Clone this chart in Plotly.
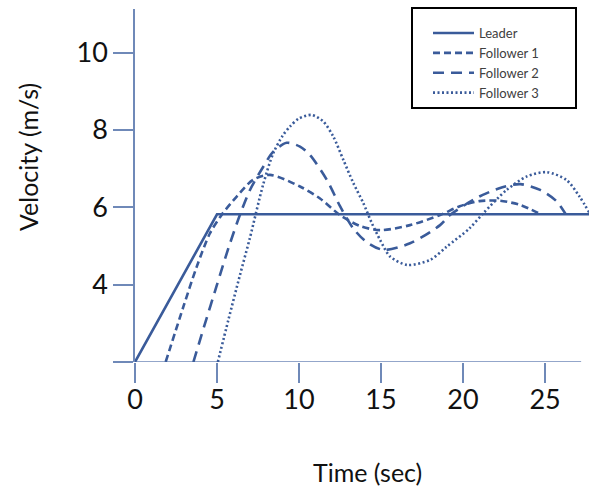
import plotly.graph_objects as go

# ---- data ----
leader_t = [0, 5, 27.7]
leader_v = [2.0, 5.82, 5.82]

f1_t = [1.87, 2.95, 3.76, 4.57, 5.29, 6.2, 7.2, 8.23, 10.06, 11.28, 12.5, 13.7, 14.94,
        16.77, 18.6, 19.8, 21.0, 22.26, 23.5, 24.7]
f1_v = [2.0, 3.43, 4.46, 5.33, 5.81, 6.28, 6.71, 6.84, 6.54, 6.23, 5.80, 5.52, 5.41,
        5.54, 5.80, 6.03, 6.16, 6.17, 6.06, 5.83]

f2_t = [3.56, 4.2, 5.0, 5.7, 6.4, 7.01, 7.82, 8.43, 9.25, 10.06, 10.67, 11.7, 12.5,
        13.3, 14.1, 15.14, 16.77, 18.6, 19.2, 21.0, 22.4, 23.5, 24.7, 25.7, 26.25]
f2_v = [2.0, 2.9, 4.0, 4.95, 5.81, 6.45, 7.05, 7.44, 7.67, 7.57, 7.35, 6.71, 6.03,
        5.46, 5.11, 4.90, 5.07, 5.54, 5.80, 6.28, 6.52, 6.6, 6.45, 6.16, 5.83]

f3_t = [5.05, 5.7, 6.4, 7.0, 7.82, 8.43, 9.0, 9.45, 10.0, 10.77, 11.48, 12.09, 12.7,
        13.31, 13.92, 14.43, 14.94, 15.55, 16.6, 17.99, 19.0, 20.4, 21.24, 22.66, 23.9,
        25.1, 26.3, 27.1, 27.7]
f3_v = [2.0, 3.1, 4.25, 5.2, 6.6, 7.4, 7.85, 8.09, 8.3, 8.39, 8.22, 7.83, 7.23,
        6.63, 6.11, 5.60, 5.16, 4.73, 4.51, 4.64, 4.98, 5.46, 5.85, 6.45, 6.80,
        6.91, 6.71, 6.28, 5.86]

x_ticks = [0, 5, 10, 15, 20, 25]
y_ticks = [2, 4, 6, 8, 10]
y_ticktext = ["", "4", "6", "8", "10"]

W, H = 589, 492
LINE = "#3A5B9A"
AXIS = "#6F89B8"
FONT = "Lato"

fig = go.Figure()
fig.add_trace(go.Scatter(x=leader_t, y=leader_v, mode="lines", name="Leader",
                         line=dict(color=LINE, width=2.6)))
fig.add_trace(go.Scatter(x=f1_t, y=f1_v, mode="lines", name="Follower 1",
                         line=dict(color=LINE, width=2.6, dash="7px,4px", shape="spline",
                                   smoothing=0.8)))
fig.add_trace(go.Scatter(x=f2_t, y=f2_v, mode="lines", name="Follower 2",
                         line=dict(color=LINE, width=2.6, dash="11px,7px", shape="spline",
                                   smoothing=0.8)))
fig.add_trace(go.Scatter(x=f3_t, y=f3_v, mode="lines", name="Follower 3",
                         line=dict(color=LINE, width=2.6, dash="2px,2.5px", shape="spline",
                                   smoothing=0.8)))

fig.update_layout(
    width=W, height=H,
    margin=dict(l=135, r=0, t=9, b=130, autoexpand=False),
    paper_bgcolor="white", plot_bgcolor="white",
    font=dict(family=FONT, color="#111111"),
    showlegend=True,
    legend=dict(xref="container", yref="container", x=428 / W, y=1 - 18 / H,
                xanchor="left", yanchor="top", bgcolor="rgba(0,0,0,0)",
                borderwidth=0, font=dict(size=13, color="#404040", family=FONT),
                itemwidth=41, tracegroupgap=0),
    xaxis=dict(range=[0, 27.68], showgrid=False, zeroline=False, showline=False,
               tickvals=x_ticks, ticks="outside", ticklen=20, tickwidth=1.5,
               tickcolor=AXIS, ticklabelstandoff=-6,
               tickfont=dict(size=27, family=FONT, color="#111111")),
    yaxis=dict(range=[2, 11.13], showgrid=False, zeroline=False, showline=True,
               linecolor=AXIS, linewidth=1.5,
               tickvals=y_ticks, ticktext=y_ticktext, ticks="outside", ticklen=20,
               tickwidth=1.5, tickcolor=AXIS,
               tickfont=dict(size=27, family=FONT, color="#111111")),
    shapes=[
        dict(type="line", xref="x", yref="y", x0=0, x1=27.2, y0=2, y1=2,
             line=dict(color=AXIS, width=1.5), layer="below"),
        dict(type="rect", xref="paper", yref="paper",
             x0=(412 - 135) / 454, x1=(576 - 135) / 454,
             y0=1 - (108 - 9) / 353, y1=1 - (8 - 9) / 353,
             line=dict(color="black", width=2), fillcolor="rgba(0,0,0,0)"),
    ],
    annotations=[
        dict(text="Time (sec)", xref="paper", yref="paper",
             x=(367 - 135) / 454, y=1 - (472 - 9) / 353, showarrow=False,
             font=dict(size=25, family=FONT, color="#111111"),
             xanchor="center", yanchor="middle"),
        dict(text="Velocity (m/s)", xref="paper", yref="paper",
             x=(28 - 135) / 454, y=1 - (157 - 9) / 353, showarrow=False,
             textangle=-90, font=dict(size=25, family=FONT, color="#111111"),
             xanchor="center", yanchor="middle"),
    ],
)

fig.write_html("out.html")
